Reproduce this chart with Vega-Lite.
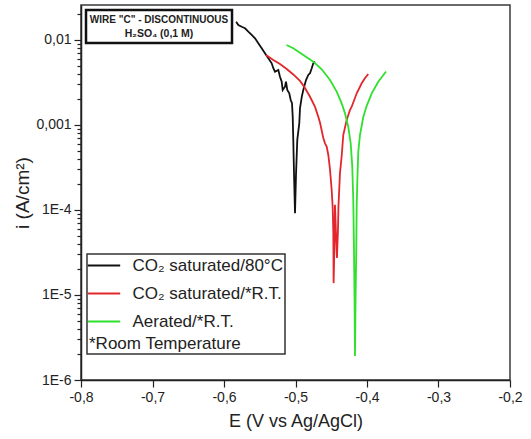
{
  "$schema": "https://vega.github.io/schema/vega-lite/v6.json",
  "width": 429,
  "height": 375,
  "autosize": {"type": "none"},
  "padding": {"left": 81, "top": 5, "right": 21, "bottom": 59},
  "background": "white",
  "config": {
    "font": "Liberation Sans",
    "view": {"stroke": "#3a3a3a", "strokeWidth": 1.5},
    "axis": {
      "domainColor": "#222",
      "domainWidth": 1.5,
      "tickColor": "#222",
      "tickWidth": 1.2,
      "labelFont": "Liberation Sans",
      "labelFontSize": 14,
      "labelColor": "#222",
      "titleFont": "Liberation Sans",
      "titleFontSize": 18,
      "titleFontWeight": "normal",
      "titleColor": "#222",
      "grid": false
    }
  },
  "datasets": {
    "curves": [
      {"series": "CO₂ saturated/80°C", "k": 1, "E": -0.583, "i": 0.0164},
      {"series": "CO₂ saturated/80°C", "k": 2, "E": -0.580, "i": 0.0150},
      {"series": "CO₂ saturated/80°C", "k": 3, "E": -0.5752, "i": 0.01432},
      {"series": "CO₂ saturated/80°C", "k": 4, "E": -0.5706, "i": 0.01374},
      {"series": "CO₂ saturated/80°C", "k": 5, "E": -0.566, "i": 0.01253},
      {"series": "CO₂ saturated/80°C", "k": 6, "E": -0.5613, "i": 0.01146},
      {"series": "CO₂ saturated/80°C", "k": 7, "E": -0.5566, "i": 0.01047},
      {"series": "CO₂ saturated/80°C", "k": 8, "E": -0.552, "i": 0.00915},
      {"series": "CO₂ saturated/80°C", "k": 9, "E": -0.5473, "i": 0.00798},
      {"series": "CO₂ saturated/80°C", "k": 10, "E": -0.5427, "i": 0.00698},
      {"series": "CO₂ saturated/80°C", "k": 11, "E": -0.538, "i": 0.0061},
      {"series": "CO₂ saturated/80°C", "k": 12, "E": -0.5333, "i": 0.00532},
      {"series": "CO₂ saturated/80°C", "k": 13, "E": -0.531, "i": 0.00465},
      {"series": "CO₂ saturated/80°C", "k": 14, "E": -0.5287, "i": 0.00424},
      {"series": "CO₂ saturated/80°C", "k": 15, "E": -0.524, "i": 0.00444},
      {"series": "CO₂ saturated/80°C", "k": 16, "E": -0.5217, "i": 0.0037},
      {"series": "CO₂ saturated/80°C", "k": 17, "E": -0.5193, "i": 0.00323},
      {"series": "CO₂ saturated/80°C", "k": 18, "E": -0.5179, "i": 0.00258},
      {"series": "CO₂ saturated/80°C", "k": 19, "E": -0.5147, "i": 0.00282},
      {"series": "CO₂ saturated/80°C", "k": 20, "E": -0.5133, "i": 0.00323},
      {"series": "CO₂ saturated/80°C", "k": 21, "E": -0.5115, "i": 0.00258},
      {"series": "CO₂ saturated/80°C", "k": 22, "E": -0.5087, "i": 0.00236},
      {"series": "CO₂ saturated/80°C", "k": 23, "E": -0.5067, "i": 0.00197},
      {"series": "CO₂ saturated/80°C", "k": 24, "E": -0.5049, "i": 0.0018},
      {"series": "CO₂ saturated/80°C", "k": 25, "E": -0.5039, "i": 0.00125},
      {"series": "CO₂ saturated/80°C", "k": 26, "E": -0.5031, "i": 0.000667},
      {"series": "CO₂ saturated/80°C", "k": 27, "E": -0.5021, "i": 0.000272},
      {"series": "CO₂ saturated/80°C", "k": 28, "E": -0.5007, "i": 0.0000914},
      {"series": "CO₂ saturated/80°C", "k": 29, "E": -0.4993, "i": 0.000258},
      {"series": "CO₂ saturated/80°C", "k": 30, "E": -0.4975, "i": 0.000667},
      {"series": "CO₂ saturated/80°C", "k": 31, "E": -0.4947, "i": 0.001047},
      {"series": "CO₂ saturated/80°C", "k": 32, "E": -0.4937, "i": 0.00158},
      {"series": "CO₂ saturated/80°C", "k": 33, "E": -0.4913, "i": 0.00213},
      {"series": "CO₂ saturated/80°C", "k": 34, "E": -0.4891, "i": 0.00258},
      {"series": "CO₂ saturated/80°C", "k": 35, "E": -0.4853, "i": 0.00338},
      {"series": "CO₂ saturated/80°C", "k": 36, "E": -0.4821, "i": 0.00388},
      {"series": "CO₂ saturated/80°C", "k": 37, "E": -0.4797, "i": 0.00406},
      {"series": "CO₂ saturated/80°C", "k": 38, "E": -0.4773, "i": 0.00465},
      {"series": "CO₂ saturated/80°C", "k": 39, "E": -0.4751, "i": 0.00532},
      {"series": "CO₂ saturated/80°C", "k": 40, "E": -0.4727, "i": 0.00556},

      {"series": "CO₂ saturated/*R.T.", "k": 1, "E": -0.5413, "i": 0.00666},
      {"series": "CO₂ saturated/*R.T.", "k": 2, "E": -0.531, "i": 0.00582},
      {"series": "CO₂ saturated/*R.T.", "k": 3, "E": -0.5217, "i": 0.00522},
      {"series": "CO₂ saturated/*R.T.", "k": 4, "E": -0.5123, "i": 0.00456},
      {"series": "CO₂ saturated/*R.T.", "k": 5, "E": -0.5031, "i": 0.00393},
      {"series": "CO₂ saturated/*R.T.", "k": 6, "E": -0.4937, "i": 0.0033},
      {"series": "CO₂ saturated/*R.T.", "k": 7, "E": -0.4867, "i": 0.00272},
      {"series": "CO₂ saturated/*R.T.", "k": 8, "E": -0.4797, "i": 0.00215},
      {"series": "CO₂ saturated/*R.T.", "k": 9, "E": -0.4727, "i": 0.00163},
      {"series": "CO₂ saturated/*R.T.", "k": 10, "E": -0.4681, "i": 0.00125},
      {"series": "CO₂ saturated/*R.T.", "k": 11, "E": -0.4657, "i": 0.00106},
      {"series": "CO₂ saturated/*R.T.", "k": 12, "E": -0.4611, "i": 0.000703},
      {"series": "CO₂ saturated/*R.T.", "k": 13, "E": -0.4587, "i": 0.000609},
      {"series": "CO₂ saturated/*R.T.", "k": 14, "E": -0.4564, "i": 0.000556},
      {"series": "CO₂ saturated/*R.T.", "k": 15, "E": -0.4541, "i": 0.000444},
      {"series": "CO₂ saturated/*R.T.", "k": 16, "E": -0.4517, "i": 0.000296},
      {"series": "CO₂ saturated/*R.T.", "k": 17, "E": -0.4494, "i": 0.000172},
      {"series": "CO₂ saturated/*R.T.", "k": 18, "E": -0.448, "i": 0.000108},
      {"series": "CO₂ saturated/*R.T.", "k": 19, "E": -0.4471, "i": 0.0000536},
      {"series": "CO₂ saturated/*R.T.", "k": 20, "E": -0.4467, "i": 0.0000138},
      {"series": "CO₂ saturated/*R.T.", "k": 21, "E": -0.4457, "i": 0.0000339},
      {"series": "CO₂ saturated/*R.T.", "k": 22, "E": -0.4448, "i": 0.000115},
      {"series": "CO₂ saturated/*R.T.", "k": 23, "E": -0.4434, "i": 0.0000536},
      {"series": "CO₂ saturated/*R.T.", "k": 24, "E": -0.442, "i": 0.0000272},
      {"series": "CO₂ saturated/*R.T.", "k": 25, "E": -0.4406, "i": 0.0000582},
      {"series": "CO₂ saturated/*R.T.", "k": 26, "E": -0.4399, "i": 0.000111},
      {"series": "CO₂ saturated/*R.T.", "k": 27, "E": -0.4378, "i": 0.000272},
      {"series": "CO₂ saturated/*R.T.", "k": 28, "E": -0.4354, "i": 0.000432},
      {"series": "CO₂ saturated/*R.T.", "k": 29, "E": -0.4332, "i": 0.000762},
      {"series": "CO₂ saturated/*R.T.", "k": 30, "E": -0.4284, "i": 0.001146},
      {"series": "CO₂ saturated/*R.T.", "k": 31, "E": -0.4238, "i": 0.0015},
      {"series": "CO₂ saturated/*R.T.", "k": 32, "E": -0.4214, "i": 0.00164},
      {"series": "CO₂ saturated/*R.T.", "k": 33, "E": -0.4144, "i": 0.00236},
      {"series": "CO₂ saturated/*R.T.", "k": 34, "E": -0.4074, "i": 0.0031},
      {"series": "CO₂ saturated/*R.T.", "k": 35, "E": -0.4027, "i": 0.00357},
      {"series": "CO₂ saturated/*R.T.", "k": 36, "E": -0.3982, "i": 0.00398},

      {"series": "Aerated/*R.T.", "k": 1, "E": -0.5126, "i": 0.00873},
      {"series": "Aerated/*R.T.", "k": 2, "E": -0.5031, "i": 0.00799},
      {"series": "Aerated/*R.T.", "k": 3, "E": -0.4891, "i": 0.00666},
      {"series": "Aerated/*R.T.", "k": 4, "E": -0.4751, "i": 0.00556},
      {"series": "Aerated/*R.T.", "k": 5, "E": -0.4634, "i": 0.00452},
      {"series": "Aerated/*R.T.", "k": 6, "E": -0.4517, "i": 0.00338},
      {"series": "Aerated/*R.T.", "k": 7, "E": -0.4424, "i": 0.00247},
      {"series": "Aerated/*R.T.", "k": 8, "E": -0.4354, "i": 0.0018},
      {"series": "Aerated/*R.T.", "k": 9, "E": -0.4308, "i": 0.00137},
      {"series": "Aerated/*R.T.", "k": 10, "E": -0.4262, "i": 0.000955},
      {"series": "Aerated/*R.T.", "k": 11, "E": -0.4228, "i": 0.000609},
      {"series": "Aerated/*R.T.", "k": 12, "E": -0.4206, "i": 0.000323},
      {"series": "Aerated/*R.T.", "k": 13, "E": -0.4192, "i": 0.000131},
      {"series": "Aerated/*R.T.", "k": 14, "E": -0.4182, "i": 0.0000338},
      {"series": "Aerated/*R.T.", "k": 15, "E": -0.4174, "i": 0.00000873},
      {"series": "Aerated/*R.T.", "k": 16, "E": -0.4168, "i": 0.00000191},
      {"series": "Aerated/*R.T.", "k": 17, "E": -0.416, "i": 0.00000873},
      {"series": "Aerated/*R.T.", "k": 18, "E": -0.415, "i": 0.0000338},
      {"series": "Aerated/*R.T.", "k": 19, "E": -0.4144, "i": 0.000115},
      {"series": "Aerated/*R.T.", "k": 20, "E": -0.4133, "i": 0.000258},
      {"series": "Aerated/*R.T.", "k": 21, "E": -0.4122, "i": 0.000481},
      {"series": "Aerated/*R.T.", "k": 22, "E": -0.4098, "i": 0.000762},
      {"series": "Aerated/*R.T.", "k": 23, "E": -0.4052, "i": 0.00124},
      {"series": "Aerated/*R.T.", "k": 24, "E": -0.4004, "i": 0.00168},
      {"series": "Aerated/*R.T.", "k": 25, "E": -0.3934, "i": 0.00236},
      {"series": "Aerated/*R.T.", "k": 26, "E": -0.3842, "i": 0.00323},
      {"series": "Aerated/*R.T.", "k": 27, "E": -0.3734, "i": 0.00426}
    ]
  },
  "layer": [
    {
      "data": {"name": "curves"},
      "mark": {"type": "line", "strokeWidth": 1.8, "interpolate": "linear"},
      "encoding": {
        "x": {
          "field": "E",
          "type": "quantitative",
          "title": "E (V vs Ag/AgCl)",
          "scale": {"domain": [-0.8, -0.2], "nice": false, "zero": false},
          "axis": {
            "values": [-0.8, -0.75, -0.7, -0.65, -0.6, -0.55, -0.5, -0.45, -0.4, -0.35, -0.3, -0.25, -0.2],
            "labelExpr": "abs(datum.value * 10 - round(datum.value * 10)) > 0.01 ? '' : replace(replace(format(datum.value, '.1f'), '−', '-'), '.', ',')",
            "tickSize": {"condition": {"test": "abs(datum.value * 10 - round(datum.value * 10)) > 0.01", "value": 4}, "value": 7},
            "labelPadding": 3,
            "titlePadding": 8,
            "labelFlush": false
          }
        },
        "y": {
          "field": "i",
          "type": "quantitative",
          "title": "i (A/cm²)",
          "scale": {"type": "log", "domain": [0.000001, 0.0258], "nice": false},
          "axis": {
            "values": [0.000001, 0.000002, 0.000003, 0.000004, 0.000005, 0.000006, 0.000007, 0.000008, 0.000009,
                       0.00001, 0.00002, 0.00003, 0.00004, 0.00005, 0.00006, 0.00007, 0.00008, 0.00009,
                       0.0001, 0.0002, 0.0003, 0.0004, 0.0005, 0.0006, 0.0007, 0.0008, 0.0009,
                       0.001, 0.002, 0.003, 0.004, 0.005, 0.006, 0.007, 0.008, 0.009,
                       0.01, 0.02],
            "labelExpr": "abs(log(datum.value) / LN10 - round(log(datum.value) / LN10)) > 0.01 ? '' : datum.value > 0.005 ? '0,01' : datum.value > 0.0005 ? '0,001' : '1E' + round(log(datum.value) / LN10)",
            "tickSize": {"condition": {"test": "abs(log(datum.value) / LN10 - round(log(datum.value) / LN10)) > 0.01", "value": 4}, "value": 7},
            "labelPadding": 3,
            "titlePadding": 3,
            "titleFontSize": 19,
            "labelFlush": false,
            "labelOverlap": false
          }
        },
        "order": {"field": "k", "type": "quantitative"},
        "color": {
          "field": "series",
          "type": "nominal",
          "scale": {
            "domain": ["CO₂ saturated/80°C", "CO₂ saturated/*R.T.", "Aerated/*R.T."],
            "range": ["#111111", "#e3262b", "#2fe02f"]
          },
          "legend": {
            "orient": "none",
            "legendX": 6,
            "legendY": 249,
            "title": "*Room Temperature",
            "titleOrient": "bottom",
            "titleFontSize": 17,
            "titleFontWeight": "normal",
            "titleColor": "#222",
            "titlePadding": 6,
            "labelFontSize": 17,
            "labelColor": "#222",
            "labelLimit": 400,
            "labelOffset": 19,
            "symbolType": "M-2,0H2",
            "symbolSize": 262,
            "symbolOffset": 5.5,
            "symbolStrokeWidth": 2,
            "symbolFillColor": "transparent",
            "rowPadding": 10,
            "padding": 2,
            "strokeColor": "#333",
            "fillColor": "white",
            "encode": {"legend": {"update": {"strokeWidth": {"value": 1.5}}}}
          }
        }
      }
    },
    {
      "data": {"values": [{}]},
      "mark": {"type": "rect", "fill": "white", "stroke": "#111", "strokeWidth": 2.5},
      "encoding": {
        "x": {"datum": -0.793},
        "x2": {"datum": -0.5888},
        "y": {"datum": 0.02254},
        "y2": {"datum": 0.00922}
      }
    },
    {
      "data": {"values": [{}]},
      "mark": {"type": "text", "fontSize": 10, "fontWeight": "bold", "font": "Liberation Sans", "color": "#222", "align": "center", "baseline": "middle"},
      "encoding": {
        "x": {"datum": -0.6909},
        "y": {"datum": 0.01718},
        "text": {"value": "WIRE \"C\" - DISCONTINUOUS"}
      }
    },
    {
      "data": {"values": [{}]},
      "mark": {"type": "text", "fontSize": 10.5, "fontWeight": "bold", "font": "Liberation Sans", "color": "#222", "align": "center", "baseline": "middle"},
      "encoding": {
        "x": {"datum": -0.6909},
        "y": {"datum": 0.01167},
        "text": {"value": "H₂SO₄ (0,1 M)"}
      }
    }
  ]
}
